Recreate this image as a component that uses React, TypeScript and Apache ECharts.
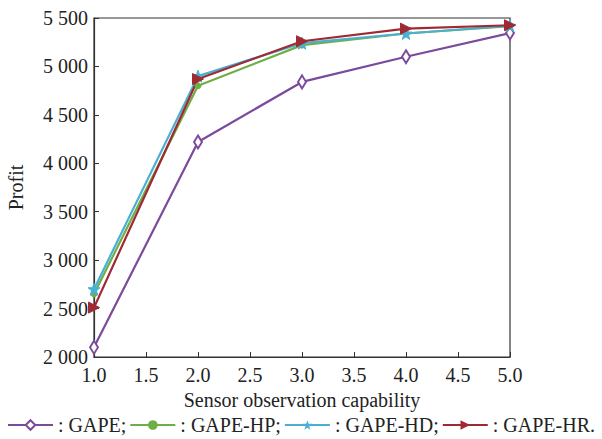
import React, { useEffect, useRef } from "react";
import * as echarts from "echarts";

const capability = [1.0, 2.0, 3.0, 4.0, 5.0];
const gape = [2100, 4220, 4840, 5100, 5345];
const gapeHP = [2650, 4800, 5220, 5340, 5415];
const gapeHD = [2700, 4900, 5240, 5340, 5420];
const gapeHR = [2510, 4870, 5260, 5390, 5425];
const seriesNames = ["GAPE", "GAPE-HP", "GAPE-HD", "GAPE-HR"];
const legendLabels = [": GAPE;", ": GAPE-HP;", ": GAPE-HD;", ": GAPE-HR."];

const STAR =
  "path://M0,-10 L2.35,-3.24 9.51,-3.09 3.8,1.24 5.88,8.09 0,4 -5.88,8.09 -3.8,1.24 -9.51,-3.09 -2.35,-3.24Z";

const fmt = (v: number) => {
  const s = String(Math.round(v));
  return s.length > 3 ? s.slice(0, s.length - 3) + " " + s.slice(-3) : s;
};

export default function App() {
  const ref = useRef<HTMLDivElement>(null);
  useEffect(() => {
    if (!ref.current) return;
    document.body.style.margin = "0";
    const chart = echarts.init(ref.current, null, { renderer: "svg" });
    const font = "Liberation Serif";
    const pair = (vals: number[]) => vals.map((v, i) => [capability[i], v]);
    const mk = (name: string, vals: number[], color: string, symbol: string, size: any, extra: any = {}) => ({
      name,
      type: "line",
      data: pair(vals),
      symbol,
      symbolSize: size,
      lineStyle: { color, width: 2.2 },
      itemStyle: { color, borderColor: color },
      ...extra,
    });
    chart.setOption({
      animation: false,
      backgroundColor: "#fff",
      grid: {
        left: 94,
        right: 92,
        top: 18,
        bottom: 82,
        outerBoundsMode: "none",
        containLabel: false,
        show: true,
        borderColor: "#333",
        borderWidth: 1.2,
      },
      xAxis: {
        type: "value",
        min: 1,
        max: 5,
        interval: 0.5,
        name: "Sensor observation capability",
        nameLocation: "middle",
        nameGap: 33,
        nameTextStyle: { fontFamily: font, fontSize: 20, color: "#222" },
        axisLine: { lineStyle: { color: "#333", width: 1.2 } },
        axisTick: { inside: true, length: 5, lineStyle: { color: "#333" } },
        axisLabel: { fontFamily: font, fontSize: 20, color: "#222", margin: 8, formatter: (v: number) => v.toFixed(1) },
        splitLine: { show: false },
      },
      yAxis: {
        type: "value",
        min: 2000,
        max: 5500,
        interval: 500,
        name: "Profit",
        nameLocation: "middle",
        nameGap: 68,
        nameTextStyle: { fontFamily: font, fontSize: 20, color: "#222" },
        axisLine: { show: true, lineStyle: { color: "#333", width: 1.2 } },
        axisTick: { show: true, inside: true, length: 5, lineStyle: { color: "#333" } },
        axisLabel: { fontFamily: font, fontSize: 20, color: "#222", margin: 6, formatter: fmt },
        splitLine: { show: false },
      },
      legend: {
        bottom: 4,
        left: "center",
        itemWidth: 45,
        itemHeight: 12,
        itemGap: 3,
        padding: 0,
        data: seriesNames,
        formatter: (n: string) => legendLabels[seriesNames.indexOf(n)],
        textStyle: { fontFamily: font, fontSize: 20, color: "#222" },
      },
      series: [
        mk("GAPE", gape, "#7a4a9c", "diamond", [8, 13], {
          itemStyle: { color: "#fff", borderColor: "#7a4a9c", borderWidth: 2 },
        }),
        mk("GAPE-HP", gapeHP, "#6fae45", "circle", 6),
        mk("GAPE-HD", gapeHD, "#49b0d2", STAR, 12),
        mk("GAPE-HR", gapeHR, "#a02a33", "triangle", 11, { symbolRotate: -90 }),
      ],
    });
    return () => chart.dispose();
  }, []);
  return <div ref={ref} style={{ width: 602, height: 439 }} />;
}
